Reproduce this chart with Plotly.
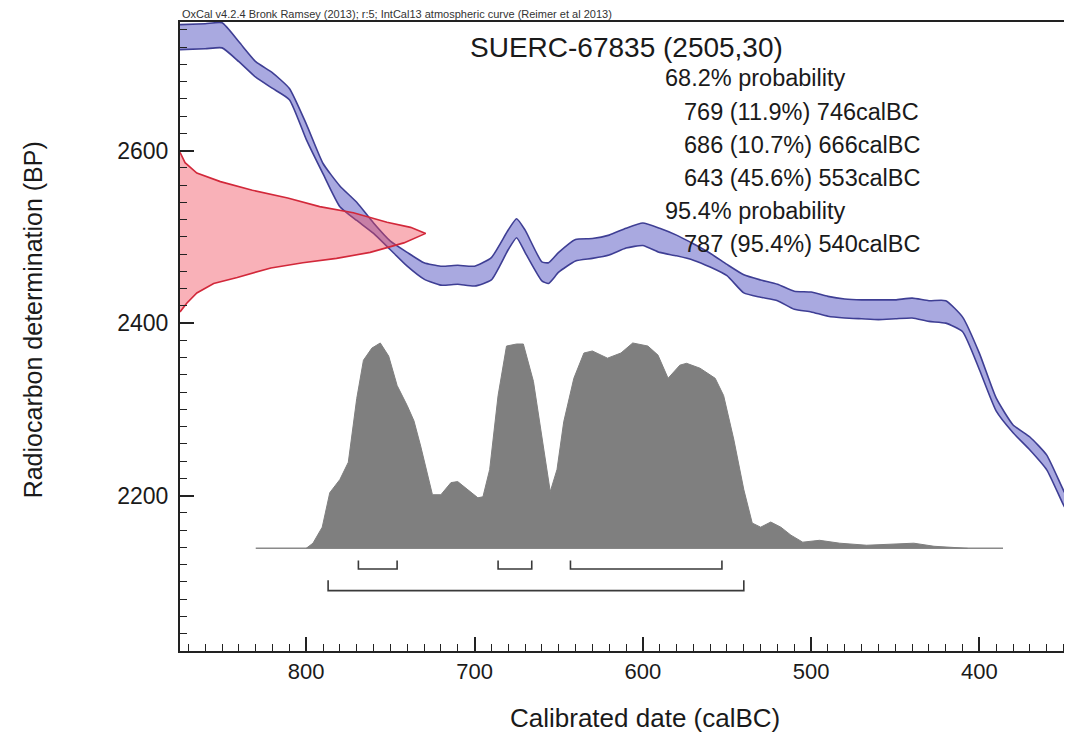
import plotly.graph_objects as go

# ---------------- data ----------------
# IntCal13 calibration band (calBC, upper / lower BP edges)
cal_years = [875, 860, 850, 840, 830, 820, 810, 800, 790, 780, 770, 760, 750, 740, 730, 720, 710, 700,
             690, 680, 675, 670, 660, 656, 650, 640, 630, 620, 610, 600, 590, 580, 570, 560, 550, 540,
             530, 520, 510, 500, 490, 480, 470, 460, 450, 440, 430, 420, 410, 400, 390, 380, 370, 360,
             350, 345]
cal_upper = [2746, 2747, 2748, 2726, 2703, 2690, 2672, 2631, 2585, 2559, 2540, 2516, 2495, 2482, 2470, 2466,
             2467, 2466, 2476, 2508, 2521, 2508, 2471, 2470, 2482, 2497, 2498, 2502, 2510, 2516, 2510, 2502,
             2492, 2481, 2468, 2456, 2450, 2445, 2437, 2436, 2431, 2428, 2427, 2427, 2427, 2429, 2426, 2426,
             2407, 2365, 2313, 2282, 2268, 2247, 2206, 2189]
cal_lower = [2717, 2718, 2719, 2703, 2685, 2672, 2659, 2613, 2573, 2535, 2519, 2504, 2485, 2466, 2451, 2444,
             2445, 2443, 2450, 2485, 2499, 2482, 2449, 2446, 2459, 2472, 2475, 2479, 2487, 2490, 2482, 2478,
             2473, 2465, 2455, 2435, 2430, 2426, 2416, 2413, 2408, 2406, 2405, 2404, 2405, 2406, 2402, 2400,
             2390, 2346, 2298, 2273, 2253, 2230, 2189, 2172]

# radiocarbon determination (BP) and its drawn width (years from the left axis)
c14_bp = [2598, 2586, 2574, 2564, 2554, 2545, 2535, 2528, 2517, 2511, 2504, 2493, 2482, 2475, 2470, 2464,
          2453, 2446, 2435, 2423, 2413]
c14_width = [0, 3, 10, 24, 43, 64, 83, 103, 123, 137, 146, 133, 113, 93, 73, 54, 34, 20, 10, 4, 0]

# calibrated probability distribution (relative)
dist_years = [800, 796, 790.5, 786, 780, 775, 770, 766, 761, 756, 751, 746, 740, 736, 732, 729, 725, 720,
              714, 710, 704, 698, 695, 691, 686, 681, 675, 671, 665, 660, 655, 651, 647, 641, 635, 630,
              621, 613, 606, 597, 591, 585, 578, 574, 566, 557, 552, 546, 540, 535, 530, 524, 518, 512,
              505, 495, 483, 467, 439, 427, 417, 407]
dist_prob = [0, 0.025, 0.103, 0.271, 0.335, 0.419, 0.729, 0.916, 0.975, 1.0, 0.936, 0.793, 0.695, 0.621,
             0.498, 0.399, 0.261, 0.261, 0.320, 0.325, 0.286, 0.246, 0.251, 0.384, 0.744, 0.985, 0.995,
             0.995, 0.813, 0.532, 0.276, 0.384, 0.616, 0.828, 0.951, 0.961, 0.926, 0.951, 1.0, 0.985,
             0.941, 0.828, 0.892, 0.901, 0.877, 0.828, 0.744, 0.532, 0.286, 0.123, 0.103, 0.128, 0.103,
             0.064, 0.030, 0.039, 0.025, 0.015, 0.025, 0.010, 0.005, 0]

# ranges
range68 = [(769, 746), (686, 666), (643, 553)]
range95 = [(787, 540)]

title_text = "SUERC-67835 (2505,30)"
caption_text = "OxCal v4.2.4 Bronk Ramsey (2013); r:5; IntCal13 atmospheric curve (Reimer et al 2013)"
summary_lines = [("68.2% probability", 0),
                 ("769 (11.9%) 746calBC", 1),
                 ("686 (10.7%) 666calBC", 1),
                 ("643 (45.6%) 553calBC", 1),
                 ("95.4% probability", 0),
                 ("787 (95.4%) 540calBC", 1)]

# ---------------- layout constants ----------------
X_LEFT, X_RIGHT = 875, 345
Y_BOT, Y_TOP = 2020, 2749
DIST_BASE, DIST_HEIGHT = 2139, 238
BASELINE_X = (830, 386)
ROW68_Y, ROW68_TOP = 2115, 2125
ROW95_Y, ROW95_TOP = 2090, 2102

FONT = "Liberation Sans, Arial, sans-serif"
BAND_FILL = "#a9a9e0"
BAND_LINE = "#3e3e94"

fig = go.Figure()

# calibration band
fig.add_trace(go.Scatter(x=cal_years + cal_years[::-1], y=cal_upper + cal_lower[::-1],
                         fill="toself", fillcolor=BAND_FILL,
                         line=dict(width=0, shape="spline", smoothing=0.5),
                         mode="lines", hoverinfo="skip"))
for edge in (cal_upper, cal_lower):
    fig.add_trace(go.Scatter(x=cal_years, y=edge, mode="lines",
                             line=dict(color=BAND_LINE, width=1.6, shape="spline", smoothing=0.5),
                             hoverinfo="skip"))

# radiocarbon determination (red)
red_x = [X_LEFT - w for w in c14_width]
fig.add_trace(go.Scatter(x=red_x, y=c14_bp, fill="toself", fillcolor="rgba(240,70,85,0.42)",
                         line=dict(width=0), mode="lines", hoverinfo="skip"))
fig.add_trace(go.Scatter(x=red_x, y=c14_bp, mode="lines",
                         line=dict(color="#d2283a", width=1.6), hoverinfo="skip"))

# baseline of calibrated distribution
fig.add_trace(go.Scatter(x=list(BASELINE_X), y=[DIST_BASE, DIST_BASE], mode="lines",
                         line=dict(color="#8a8a8a", width=1.5), hoverinfo="skip"))
# calibrated distribution (grey)
dist_y = [DIST_BASE + p * DIST_HEIGHT for p in dist_prob]
fig.add_trace(go.Scatter(x=dist_years, y=dist_y, fill="toself", fillcolor="#7f7f7f",
                         line=dict(color="#7f7f7f", width=1), mode="lines", hoverinfo="skip"))

# range brackets
def bracket_xy(ranges, ybar, ytop):
    xs, ys = [], []
    for a, b in ranges:
        xs += [a, a, b, b, None]
        ys += [ytop, ybar, ybar, ytop, None]
    return xs, ys

for rng, yb, yt in [(range68, ROW68_Y, ROW68_TOP), (range95, ROW95_Y, ROW95_TOP)]:
    bx, by = bracket_xy(rng, yb, yt)
    fig.add_trace(go.Scatter(x=bx, y=by, mode="lines",
                             line=dict(color="#3a3a3a", width=1.6), hoverinfo="skip"))

annotations = []
# caption above plot
annotations.append(dict(text=caption_text, xref="paper", yref="paper", x=0, y=1.0,
                        xanchor="left", yanchor="bottom", showarrow=False,
                        font=dict(family=FONT, size=11, color="#333333")))
# sample title
annotations.append(dict(text=title_text, xref="x", yref="y", x=610, y=2719,
                        xanchor="center", yanchor="middle", showarrow=False,
                        font=dict(family=FONT, size=28, color="#1a1a1a")))
# summary text
line_y = [2684, 2645, 2606, 2568, 2530, 2492]
for (txt, indent), yy in zip(summary_lines, line_y):
    annotations.append(dict(text=txt, xref="x", yref="y", x=588 if indent == 0 else 577, y=yy,
                            xanchor="left", yanchor="middle", showarrow=False,
                            font=dict(family=FONT, size=23.5, color="#1a1a1a")))
# axis titles
annotations.append(dict(text="Radiocarbon determination (BP)", xref="paper", yref="paper",
                        x=-0.165, y=0.527, textangle=-90, showarrow=False,
                        xanchor="center", yanchor="middle",
                        font=dict(family=FONT, size=25, color="#1a1a1a")))
annotations.append(dict(text="Calibrated date (calBC)", xref="paper", yref="paper",
                        x=0.521, y=-0.106, showarrow=False, xanchor="center", yanchor="middle",
                        font=dict(family=FONT, size=26, color="#1a1a1a")))

# page body has an 8px margin: size the figure so the plot area lands where the reference has it
fig.update_layout(
    width=1064, height=729,
    margin=dict(l=172, r=0, t=14, b=86),
    paper_bgcolor="white", plot_bgcolor="white",
    showlegend=False,
    annotations=annotations,
    xaxis=dict(range=[X_LEFT, X_RIGHT], showgrid=False, zeroline=False,
               showline=True, linecolor="#222222", linewidth=2, mirror=True,
               ticks="inside", ticklen=14, tickwidth=1.5, tickcolor="#222222",
               tickmode="linear", tick0=800, dtick=100,
               minor=dict(ticks="inside", ticklen=7, tickwidth=1.2, tickcolor="#222222", dtick=10,
                          showgrid=False),
               tickfont=dict(family=FONT, size=22, color="#1a1a1a")),
    yaxis=dict(range=[Y_BOT, Y_TOP], showgrid=False, zeroline=False,
               showline=True, linecolor="#222222", linewidth=2,
               ticks="inside", ticklen=14, tickwidth=1.5, tickcolor="#222222",
               tickmode="linear", tick0=2200, dtick=200,
               minor=dict(ticks="inside", ticklen=7, tickwidth=1.2, tickcolor="#222222", dtick=20,
                          showgrid=False),
               ticklabelstandoff=5,
               tickfont=dict(family=FONT, size=23, color="#1a1a1a")),
)

fig.write_html("out.html")
